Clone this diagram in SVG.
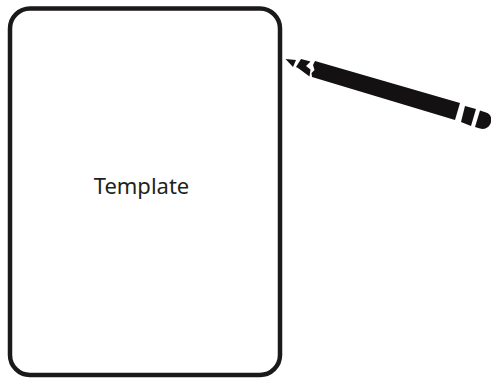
<svg xmlns="http://www.w3.org/2000/svg" width="491" height="380" viewBox="0 0 491 380">
  <style>
    .frame{fill:#fff;stroke:#1c191a;stroke-width:4.500}
    .pencil{fill:#141112;stroke:none}
    .label{font-family:"Noto Sans","Open Sans",sans-serif;font-size:22px;fill:#231f20;text-anchor:middle}
  </style>
  <rect width="491" height="380" fill="#fff"/>
  <g id="template">
    <rect class="frame" x="10" y="8.500" width="270" height="366.500" rx="20" ry="20"/>
    <text class="label" x="141.500" y="194">Template</text>
  </g>
  <g id="pencil">
    <path class="pencil" d="M285.500 59L296 60L293 67Z"/>
    <path class="pencil" d="M301 59L310.500 61.500L306 66L310.500 69.500L309.500 76.500L298 68L296 67Z"/>
    <path class="pencil" d="M315 61L460 103L455 120L312 77L311.500 73L314.500 70L313 65Z"/>
    <path class="pencil" d="M465 106L476 109L471 126L461 122Z"/>
    <path class="pencil" d="M480 110.500L486 112.500C491 114 492 119 491 122C490 127 485 130 480 128.500L475 127Z"/>
  </g>
</svg>
